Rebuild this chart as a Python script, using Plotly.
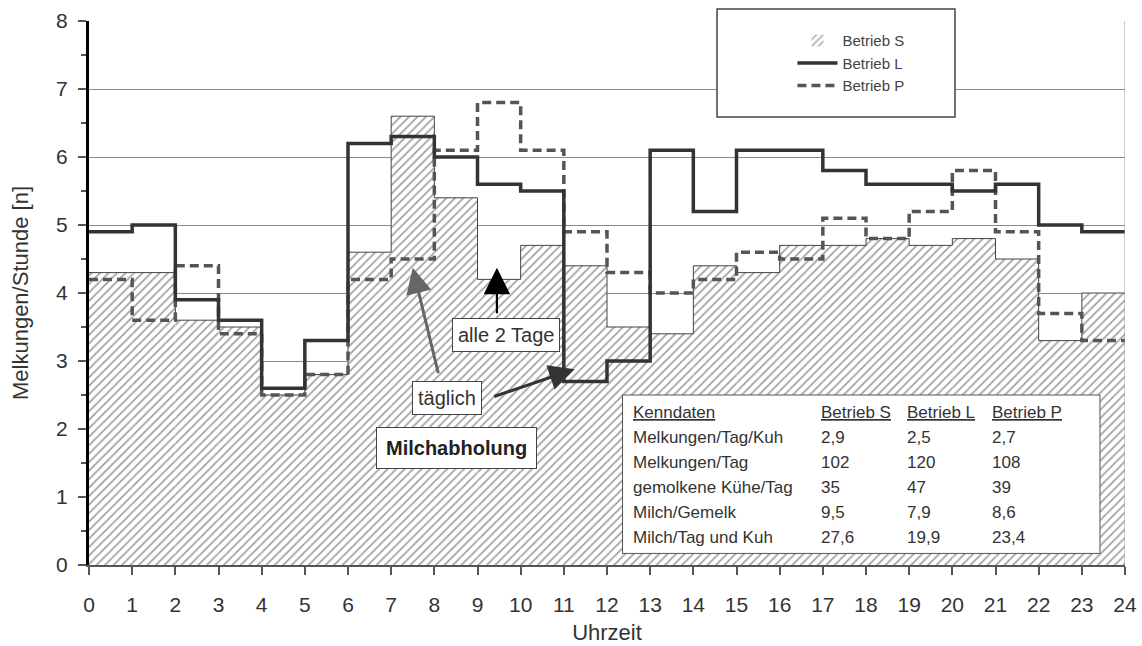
import plotly.graph_objects as go

# ---------------- data ----------------
hours = list(range(24))
x_tick_labels = [str(i) for i in range(25)]

betrieb_S = [4.3, 4.3, 3.6, 3.5, 2.5, 2.8, 4.6, 6.6, 5.4, 4.2, 4.7, 4.4,
             3.5, 3.4, 4.4, 4.3, 4.7, 4.7, 4.8, 4.7, 4.8, 4.5, 3.3, 4.0]
betrieb_L = [4.9, 5.0, 3.9, 3.6, 2.6, 3.3, 6.2, 6.3, 6.0, 5.6, 5.5, 2.7,
             3.0, 6.1, 5.2, 6.1, 6.1, 5.8, 5.6, 5.6, 5.5, 5.6, 5.0, 4.9]
betrieb_P = [4.2, 3.6, 4.4, 3.4, 2.5, 2.8, 4.2, 4.5, 6.1, 6.8, 6.1, 4.9,
             4.3, 4.0, 4.2, 4.6, 4.5, 5.1, 4.8, 5.2, 5.8, 4.9, 3.7, 3.3]

table_header = ["Kenndaten", "Betrieb S", "Betrieb L", "Betrieb P"]
table_labels = ["Melkungen/Tag/Kuh", "Melkungen/Tag", "gemolkene Kühe/Tag",
                "Milch/Gemelk", "Milch/Tag und Kuh"]
table_S = ["2,9", "102", "35", "9,5", "27,6"]
table_L = ["2,5", "120", "47", "7,9", "19,9"]
table_P = ["2,7", "108", "39", "8,6", "23,4"]

FONT = "Liberation Sans, Arial, Helvetica, sans-serif"

# ---------------- figure ----------------
fig = go.Figure()

fig.add_trace(go.Bar(
    x=[h + 0.5 for h in hours], y=betrieb_S, width=1,
    name="Betrieb S", legendrank=1,
    marker=dict(color="white",
                line=dict(color="#555555", width=0),
                pattern=dict(shape="/", fgcolor="#444444", bgcolor="white",
                             size=6, solidity=0.3)),
))

step_x = list(range(25))
# outline of the hatched area
fig.add_trace(go.Scatter(
    x=step_x, y=betrieb_S + [betrieb_S[-1]], mode="lines",
    line=dict(shape="hv", color="#444444", width=1),
    showlegend=False, hoverinfo="skip",
))
fig.add_trace(go.Scatter(
    x=step_x, y=betrieb_P + [betrieb_P[-1]], mode="lines",
    line=dict(shape="hv", color="#555555", width=3.5, dash="9px,5px"),
    name="Betrieb P", legendrank=3,
))
fig.add_trace(go.Scatter(
    x=step_x, y=betrieb_L + [betrieb_L[-1]], mode="lines",
    line=dict(shape="hv", color="#333333", width=3.5),
    name="Betrieb L", legendrank=2,
))

shapes = []
# legend frame
shapes.append(dict(type="rect", xref="paper", yref="paper",
                   x0=0.6062, x1=0.8359, y0=0.8235, y1=1.0221,
                   fillcolor="white", line=dict(color="#444444", width=1.5),
                   layer="above"))
# right border
shapes.append(dict(type="line", xref="x", yref="y", x0=24, x1=24, y0=0, y1=8,
                   line=dict(color="#999999", width=1), layer="above"))
# table frame
shapes.append(dict(type="rect", xref="x", yref="y",
                   x0=12.36, x1=23.42, y0=0.17, y1=2.5,
                   fillcolor="white", line=dict(color="#555555", width=1),
                   layer="above"))

annotations = []
# table text
col_x = [12.55, 16.91, 18.9, 20.88]
row_y = [2.24, 1.87, 1.51, 1.14, 0.77, 0.4]
tfont = dict(family=FONT, size=17, color="#333333")
for j, h in enumerate(table_header):
    annotations.append(dict(x=col_x[j], y=row_y[0], xref="x", yref="y",
                            text="<u>" + h + "</u>", showarrow=False,
                            xanchor="left", yanchor="middle", font=tfont))
for i in range(len(table_labels)):
    for j, v in enumerate([table_labels[i], table_S[i], table_L[i], table_P[i]]):
        annotations.append(dict(x=col_x[j], y=row_y[i + 1], xref="x", yref="y",
                                text=v, showarrow=False,
                                xanchor="left", yanchor="middle", font=tfont))

afont = dict(family=FONT, size=20, color="#333333")
# arrows
annotations.append(dict(x=9.45, y=4.37, ax=9.45, ay=3.68, xref="x", yref="y",
                        axref="x", ayref="y", text="", showarrow=True,
                        arrowhead=2, arrowsize=2.4, arrowwidth=2.2,
                        arrowcolor="#000000"))
annotations.append(dict(x=7.5, y=4.37, ax=8.1, ay=2.8, xref="x", yref="y",
                        axref="x", ayref="y", text="", showarrow=True,
                        arrowhead=2, arrowsize=1.7, arrowwidth=3,
                        arrowcolor="#666666"))
annotations.append(dict(x=11.25, y=2.88, ax=9.35, ay=2.47, xref="x", yref="y",
                        axref="x", ayref="y", text="", showarrow=True,
                        arrowhead=2, arrowsize=1.7, arrowwidth=3,
                        arrowcolor="#333333"))
# labelled boxes
annotations.append(dict(x=9.66, y=3.38, xref="x", yref="y", text="alle 2 Tage",
                        showarrow=False, bgcolor="white", bordercolor="#444444",
                        borderwidth=1, borderpad=5, font=afont))
annotations.append(dict(x=8.3, y=2.46, xref="x", yref="y", text="täglich",
                        showarrow=False, bgcolor="white", bordercolor="#444444",
                        borderwidth=1, borderpad=5, font=afont))
annotations.append(dict(x=8.52, y=1.72, xref="x", yref="y",
                        text="<b>Milchabholung</b>",
                        showarrow=False, bgcolor="white", bordercolor="#444444",
                        borderwidth=1, borderpad=9,
                        font=dict(family=FONT, size=20, color="#222222")))

fig.update_layout(
    width=1142, height=646,
    margin=dict(l=89, r=17, t=21, b=81),
    paper_bgcolor="white", plot_bgcolor="white",
    font=dict(family=FONT, color="#333333"),
    showlegend=True,
    legend=dict(x=0.679, y=0.994, xanchor="left", yanchor="top",
                bgcolor="rgba(0,0,0,0)", borderwidth=0,
                font=dict(family=FONT, size=15, color="#444444"),
                tracegroupgap=0, itemwidth=40),
    shapes=shapes, annotations=annotations,
    barmode="overlay",
)

fig.update_xaxes(
    range=[0, 24], tickmode="array", tickvals=list(range(25)),
    ticktext=x_tick_labels, automargin=False,
    showgrid=False, zeroline=False,
    showline=True, linecolor="#555555", linewidth=1.5,
    ticks="outside", ticklen=8, tickwidth=1.5, tickcolor="#555555",
    ticklabelstandoff=12,
    tickfont=dict(family=FONT, size=21, color="#333333"),
    title=dict(text="Uhrzeit", font=dict(family=FONT, size=22, color="#333333"),
               standoff=10),
)
fig.update_yaxes(
    range=[0, 8], tickmode="linear", tick0=0, dtick=1, automargin=False,
    showgrid=True, gridcolor="#8a8a8a", gridwidth=1, zeroline=False,
    showline=True, linecolor="#000000", linewidth=3,
    ticks="outside", ticklen=8, tickwidth=1.5, tickcolor="#555555",
    ticklabelstandoff=6,
    minor=dict(dtick=0.5, ticks="outside", ticklen=5, tickcolor="#555555",
               showgrid=False),
    tickfont=dict(family=FONT, size=21, color="#333333"),
    title=dict(text="Melkungen/Stunde [n]",
               font=dict(family=FONT, size=22, color="#333333"), standoff=22),
)

fig.write_html(
    "out.html",
    config={"displayModeBar": False},
    post_script="document.body.style.margin='0';document.body.style.overflow='hidden';",
)
